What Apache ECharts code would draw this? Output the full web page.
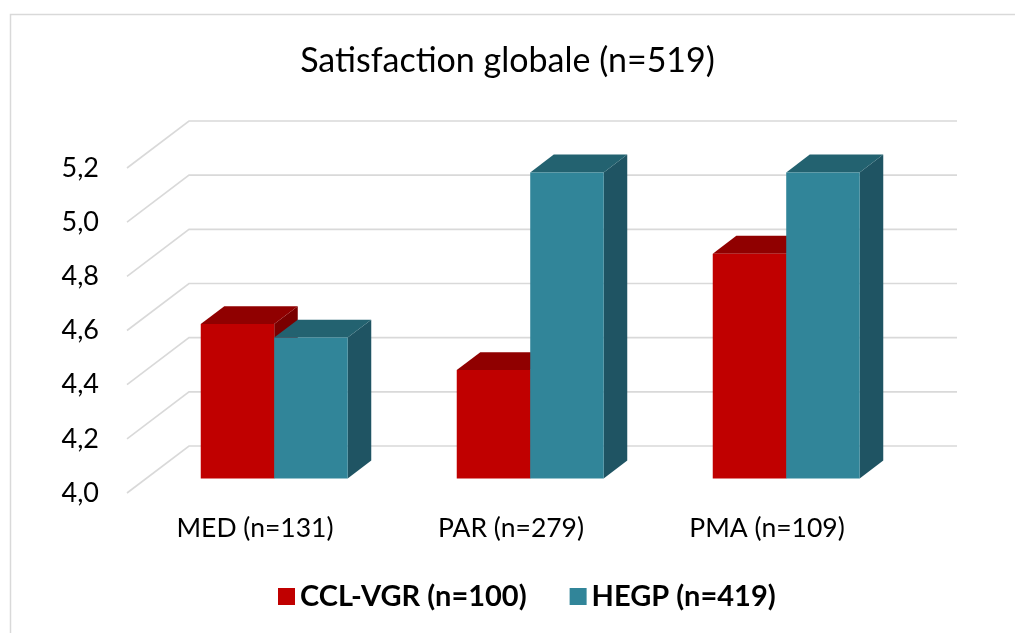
<!DOCTYPE html>
<html>
<head>
<meta charset="utf-8">
<script src="https://cdn.jsdelivr.net/npm/echarts@6/dist/echarts.min.js"></script>
<style>html,body{margin:0;padding:0;background:#fff}#main{width:1015px;height:633px}</style>
</head>
<body>
<div id="main"></div>
<script>
var titleText = 'Satisfaction globale (n=519)';
var categories = ['MED (n=131)', 'PAR (n=279)', 'PMA (n=109)'];
var seriesNames = ['CCL-VGR (n=100)', 'HEGP (n=419)'];
var ccl = [4.57, 4.40, 4.83];
var hegp = [4.52, 5.13, 5.13];
var yTicks = [4.0, 4.2, 4.4, 4.6, 4.8, 5.0, 5.2];

var FONT = 'Lato, "Open Sans", sans-serif';
var DEPTH = [62, -47];          // full floor depth vector (px)
var FRONT_T = 0.31, BACK_T = 0.69;
var BAR_FRAC = 0.287;           // bar width as fraction of category band
var faceColors = [
  {front: '#C00000', top: '#900000', side: '#7A0000'},
  {front: '#318599', top: '#236270', side: '#1F5463'}
];

function gridRender(params, api) {
  var cs = params.coordSys;
  var v = api.value(0);
  var y = api.coord([0, v])[1];
  var l = cs.x, r = cs.x + cs.width;
  return {
    type: 'polyline',
    shape: {points: [[l, y], [l + DEPTH[0], y + DEPTH[1]], [r + DEPTH[0], y + DEPTH[1]]]},
    style: {stroke: '#D9D9D9', lineWidth: 1.6, fill: null}
  };
}

function barRender(sIdx) {
  return function (params, api) {
    var i = api.value(0), v = api.value(1);
    var band = api.size([1, 0])[0];
    var w = band * BAR_FRAC;
    var cx = api.coord([i, v])[0];
    var yTop = api.coord([i, v])[1];
    var yBase = api.coord([i, 4])[1];
    var fx = FRONT_T * DEPTH[0], fy = FRONT_T * DEPTH[1];
    var dx = (BACK_T - FRONT_T) * DEPTH[0], dy = (BACK_T - FRONT_T) * DEPTH[1];
    var x0 = cx - w + sIdx * w + fx;
    var x1 = x0 + w;
    var t = yTop + fy, b = yBase + fy;
    var c = faceColors[sIdx];
    return {
      type: 'group',
      children: [
        {type: 'polygon', shape: {points: [[x1, t], [x1 + dx, t + dy], [x1 + dx, b + dy], [x1, b]]}, style: {fill: c.side}},
        {type: 'polygon', shape: {points: [[x0, t], [x0 + dx, t + dy], [x1 + dx, t + dy], [x1, t]]}, style: {fill: c.top}},
        {type: 'rect', shape: {x: x0, y: t, width: w, height: b - t}, style: {fill: c.front}}
      ]
    };
  };
}

var chart = echarts.init(document.getElementById('main'));
chart.setOption({
  backgroundColor: '#fff',
  animation: false,
  title: {
    text: titleText, left: 'center', top: 39,
    textStyle: {fontFamily: FONT, fontSize: 34, fontWeight: 'normal', color: '#000'}
  },
  graphic: [{
    type: 'rect', left: 8, top: 12, z: -10,
    shape: {width: 1100, height: 700},
    style: {fill: null, stroke: '#D9D9D9', lineWidth: 1.5}
  }],
  legend: {
    data: seriesNames, left: 273, top: 577, icon: 'rect',
    itemWidth: 17, itemHeight: 17, itemGap: 43, itemStyle: {},
    textStyle: {fontFamily: FONT, fontSize: 29, fontWeight: 'bold', color: '#000'}
  },
  grid: {left: 127, right: 120, top: 168, bottom: 140},
  xAxis: {
    type: 'category', data: categories,
    axisLine: {show: false}, axisTick: {show: false},
    axisLabel: {fontFamily: FONT, fontSize: 26.5, color: '#000', margin: 22}
  },
  yAxis: {
    type: 'value', min: 4.0, max: 5.2, interval: 0.2,
    axisLine: {show: false}, axisTick: {show: false}, splitLine: {show: false},
    axisLabel: {fontFamily: FONT, fontSize: 27, color: '#000', margin: 28,
      formatter: function (v) { return v.toFixed(1).replace('.', ','); }}
  },
  series: [
    {type: 'custom', name: '_grid', z: 1, silent: true, renderItem: gridRender,
      data: yTicks.map(function (v) { return [v]; }), encode: {y: 0}},
    {type: 'custom', name: seriesNames[0], z: 2, renderItem: barRender(0),
      itemStyle: {color: faceColors[0].front},
      data: ccl.map(function (v, i) { return [i, v]; }), encode: {x: 0, y: 1}},
    {type: 'custom', name: seriesNames[1], z: 3, renderItem: barRender(1),
      itemStyle: {color: faceColors[1].front},
      data: hegp.map(function (v, i) { return [i, v]; }), encode: {x: 0, y: 1}}
  ]
});
</script>
</body>
</html>
